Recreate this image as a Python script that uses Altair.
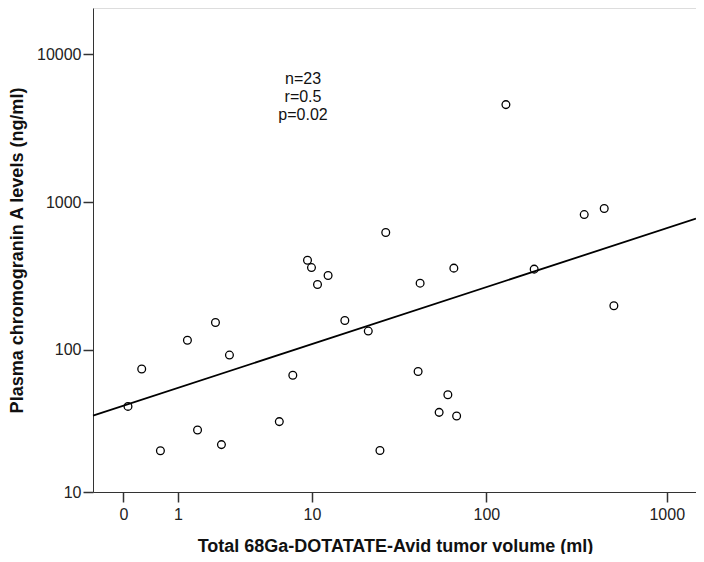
import altair as alt
import pandas as pd

# Scatter values
tumor_volume = [0.06, 0.262, 0.601, 1.257, 1.567, 2.224, 2.478, 2.851, 6.26, 7.62,
                9.39, 9.93, 10.8, 12.5, 15.7, 21.5, 25.1, 27.1, 41.4, 42.5,
                54.4, 60.9, 65.8, 68.2, 128.5, 184.5, 349.5, 451.0, 510.0]
chromogranin = [40.7, 73.6, 19.9, 115.7, 27.9, 152.9, 22.0, 91.7, 31.9, 66.7,
                405.0, 361.0, 277.0, 318.8, 157.8, 133.7, 20.0, 623.5, 70.8, 283.0,
                37.0, 49.0, 357.8, 34.9, 4574.0, 352.3, 825.0, 906.0, 198.6]

# Fit line end points
fit_x = [-0.472, 1451.0]
fit_y = [35.1, 775.0]

x_ticks = [0, 1, 10, 100, 1000]
y_ticks = [10, 100, 1000, 10000]
stats_text = ["n=23", "r=0.5", "p=0.02"]

x_title = "Total 68Ga-DOTATATE-Avid tumor volume (ml)"
y_title = "Plasma chromogranin A levels (ng/ml)"

pts = pd.DataFrame({"x": tumor_volume, "y": chromogranin})
fit = pd.DataFrame({"x": fit_x, "y": fit_y})
ann = pd.DataFrame({"label": ["\n".join(stats_text)]})

FONT = "Liberation Sans"

xscale = alt.Scale(type="symlog", constant=1, domain=[-0.472, 1451], nice=False, zero=False)
yscale = alt.Scale(type="symlog", constant=1, domain=[10, 20589], nice=False, zero=False)

xaxis = alt.Axis(values=x_ticks, format="d", title=x_title, grid=False, tickSize=10, tickWidth=1.5,
                 tickColor="#333", domainColor="#333", labelFontSize=16, labelFont=FONT,
                 labelColor="#222", labelPadding=4, titleFont=FONT, titleFontSize=18,
                 titleFontWeight="bold", titleColor="#111", titleBaseline="alphabetic",
                 titleAlign="center", titleX=302, titleY=59, labelFlush=False,
                 labelOverlap=False)
yaxis = alt.Axis(values=y_ticks, format="d", title=y_title, grid=False, tickSize=10, tickWidth=1.5,
                 tickColor="#333", domainColor="#333", labelFontSize=16, labelFont=FONT,
                 labelColor="#222", labelPadding=2, titleFont=FONT, titleFontSize=18,
                 titleFontWeight="bold", titleColor="#111", titleAngle=270,
                 titleBaseline="alphabetic", titleAlign="center", titleX=-71, titleY=242,
                 labelFlush=False, labelOverlap=False)

points = alt.Chart(pts).mark_point(shape="circle", size=60, filled=False, color="black",
                                   strokeWidth=1.3, opacity=1).encode(
    x=alt.X("x:Q", scale=xscale, axis=xaxis),
    y=alt.Y("y:Q", scale=yscale, axis=yaxis),
)

line = alt.Chart(fit).mark_line(color="black", strokeWidth=1.8).encode(
    x=alt.X("x:Q", scale=xscale),
    y=alt.Y("y:Q", scale=yscale),
)

text = alt.Chart(ann).mark_text(align="center", baseline="alphabetic", fontSize=16, font=FONT,
                                lineBreak="\n", lineHeight=18, color="#111").encode(
    text="label:N",
    x=alt.value(210),
    y=alt.value(76),
)

chart = alt.layer(line, points, text).properties(
    width=603, height=484,
    autosize=alt.AutoSizeParams(type="none"),
    padding={"left": 85, "top": 0, "right": 0, "bottom": 62},
).configure_view(stroke=None).configure(background="white")

chart.save("out.html", embed_options={"renderer": "svg", "actions": False})
